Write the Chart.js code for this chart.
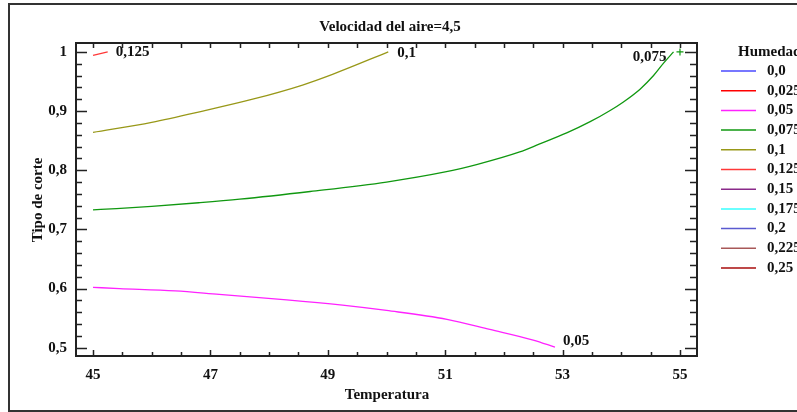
<!DOCTYPE html>
<html>
<head>
<meta charset="utf-8">
<script src="https://cdn.jsdelivr.net/npm/chart.js@4.4.1/dist/chart.umd.min.js"></script>
<style>
  html, body { margin: 0; padding: 0; background: #fff; }
  canvas { display: block; }
</style>
</head>
<body>
<canvas id="grafico" width="797" height="412"></canvas>
<script>
// Niveles de humedad de la leyenda y sus colores
const humedades = ['0,0', '0,025', '0,05', '0,075', '0,1', '0,125', '0,15', '0,175', '0,2', '0,225', '0,25'];
const coloresHum = ['#4a4aff', '#ff0000', '#ff22ff', '#109810', '#989818', '#ff3838', '#8a2a8a', '#38ffff', '#5a5ad0', '#a85858', '#a80c0c'];

// Curvas de nivel: temperatura (x) y tipo de corte (y)
const temp005 = [45, 45.45, 46.4, 47.15, 48.3, 49.25, 50, 51.03, 51.76, 52.5, 52.87];
const corte005 = [0.602, 0.600, 0.596, 0.590, 0.581, 0.572, 0.563, 0.548, 0.531, 0.513, 0.501];

const temp0075 = [45, 45.4, 46, 46.8, 47.5, 48.7, 50, 51, 51.55, 52.27, 52.6, 53.07, 53.47, 53.81, 54.03, 54.32, 54.55, 54.72, 54.89];
const corte0075 = [0.733, 0.735, 0.739, 0.745, 0.751, 0.764, 0.780, 0.797, 0.810, 0.831, 0.844, 0.863, 0.882, 0.901, 0.915, 0.937, 0.960, 0.981, 1.0];

const temp01 = [45, 46, 46.87, 47.72, 48.57, 49.08, 50.03];
const corte01 = [0.864, 0.881, 0.900, 0.920, 0.944, 0.962, 1.0];

const temp0125 = [45, 45.25];
const corte0125 = [0.994, 1.0];

// Punto suelto de la curva 0,075
const puntoTemp = [55];
const puntoCorte = [1.0];

// Marcas de los ejes
const ticksX = [45, 47, 49, 51, 53, 55];
const etiquetasX = ['45', '47', '49', '51', '53', '55'];
const ticksY = [0.5, 0.6, 0.7, 0.8, 0.9, 1];
const etiquetasY = ['0,5', '0,6', '0,7', '0,8', '0,9', '1'];

const FUENTE = '"Liberation Serif", "Times New Roman", serif';

function puntos(xs, ys) {
    return xs.map((x, i) => ({ x: x, y: ys[i] }));
}

function serie(idx, xs, ys) {
    return {
        label: humedades[idx],
        data: puntos(xs, ys),
        borderColor: coloresHum[idx],
        borderWidth: 1.3,
        pointRadius: 0,
        cubicInterpolationMode: 'monotone',
        fill: false
    };
}

const datasets = [
    serie(2, temp005, corte005),
    serie(3, temp0075, corte0075),
    serie(4, temp01, corte01),
    serie(5, temp0125, corte0125),
    {
        label: humedades[3],
        data: puntos(puntoTemp, puntoCorte),
        showLine: false,
        pointStyle: 'cross',
        pointRadius: 3.5,
        borderColor: coloresHum[3],
        borderWidth: 1.2
    }
];

// Texto sobre cada curva: [indice del dataset, dx, dy, alineacion]
const rotulos = [
    [0, 8, -6, 'left'],
    [1, -7, 5, 'right'],
    [2, 9, 1, 'left'],
    [3, 8, 0, 'left']
];

function marcasMenores(desde, hasta, paso) {
    const r = [];
    for (let v = desde; v <= hasta + 1e-9; v += paso) r.push(Math.round(v * 1000) / 1000);
    return r;
}

const decorado = {
    id: 'decorado',
    afterDraw(chart) {
        const ctx = chart.ctx;
        const a = chart.chartArea;
        const sx = chart.scales.x;
        const sy = chart.scales.y;
        ctx.save();

        // marco exterior
        ctx.strokeStyle = '#333';
        ctx.lineWidth = 2;
        ctx.strokeRect(9, 4, 800, 407);

        // caja del grafico
        ctx.strokeStyle = '#222';
        ctx.lineWidth = 2;
        ctx.strokeRect(a.left, a.top, a.right - a.left, a.bottom - a.top);

        // marcas hacia dentro en los cuatro lados
        ctx.lineWidth = 1.5;
        ctx.beginPath();
        marcasMenores(45, 55, 0.5).forEach(v => {
            const px = Math.round(sx.getPixelForValue(v)) + 0.5;
            const mayor = ticksX.includes(v);
            ctx.moveTo(px, a.bottom);
            ctx.lineTo(px, a.bottom - (mayor ? 6 : 4));
            ctx.moveTo(px, a.top);
            ctx.lineTo(px, a.top + 5);
        });
        marcasMenores(0.5, 1, 0.02).forEach(v => {
            const py = Math.round(sy.getPixelForValue(v)) + 0.5;
            const mayor = ticksY.some(t => Math.abs(t - v) < 1e-6);
            ctx.moveTo(a.left, py);
            ctx.lineTo(a.left + (mayor ? 11 : 6), py);
            ctx.moveTo(a.right, py);
            ctx.lineTo(a.right - (mayor ? 12 : 7), py);
        });
        ctx.stroke();

        // titulos
        ctx.fillStyle = '#111';
        ctx.font = 'bold 15px ' + FUENTE;
        ctx.textAlign = 'center';
        ctx.textBaseline = 'middle';
        ctx.fillText('Velocidad del aire=4,5', 390, 27);
        ctx.fillText('Temperatura', 387, 395);
        ctx.save();
        ctx.translate(38, 200);
        ctx.rotate(-Math.PI / 2);
        ctx.fillText('Tipo de corte', 0, 0);
        ctx.restore();

        // rotulos de las curvas
        rotulos.forEach(([d, dx, dy, al]) => {
            const meta = chart.getDatasetMeta(d);
            const p = meta.data[meta.data.length - 1];
            ctx.textAlign = al;
            ctx.fillText(chart.data.datasets[d].label, p.x + dx, p.y + dy);
        });

        // leyenda
        ctx.textAlign = 'left';
        ctx.fillText('Humedad', 738, 52);
        ctx.lineWidth = 1.5;
        humedades.forEach((h, i) => {
            const y = 71 + i * 19.7;
            ctx.strokeStyle = coloresHum[i];
            ctx.beginPath();
            ctx.moveTo(721, y);
            ctx.lineTo(756, y);
            ctx.stroke();
            ctx.fillStyle = '#111';
            ctx.fillText(h, 767, y);
        });
        ctx.restore();
    }
};

new Chart(document.getElementById('grafico'), {
    type: 'line',
    data: { datasets: datasets },
    options: {
        responsive: false,
        animation: false,
        devicePixelRatio: 1,
        layout: { padding: { left: 0, top: 43, right: 100, bottom: 0 } },
        plugins: {
            legend: { display: false },
            title: { display: false },
            tooltip: { enabled: false }
        },
        scales: {
            x: {
                type: 'linear',
                min: 44.71,
                max: 55.29,
                grid: { display: false, drawTicks: false },
                border: { display: false },
                afterBuildTicks: s => { s.ticks = ticksX.map(v => ({ value: v })); },
                afterFit: s => { s.height = 56; },
                ticks: {
                    padding: 10,
                    color: '#111',
                    font: { family: FUENTE, size: 15, weight: 'bold' },
                    callback: (v) => etiquetasX[ticksX.indexOf(v)]
                }
            },
            y: {
                type: 'linear',
                min: 0.486,
                max: 1.015,
                grid: { display: false, drawTicks: false },
                border: { display: false },
                afterBuildTicks: s => { s.ticks = ticksY.map(v => ({ value: v })); },
                afterFit: s => { s.width = 76; },
                ticks: {
                    padding: 9,
                    color: '#111',
                    font: { family: FUENTE, size: 15, weight: 'bold' },
                    callback: (v) => etiquetasY[ticksY.findIndex(t => Math.abs(t - v) < 1e-6)]
                }
            }
        }
    },
    plugins: [decorado]
});
</script>
</body>
</html>
